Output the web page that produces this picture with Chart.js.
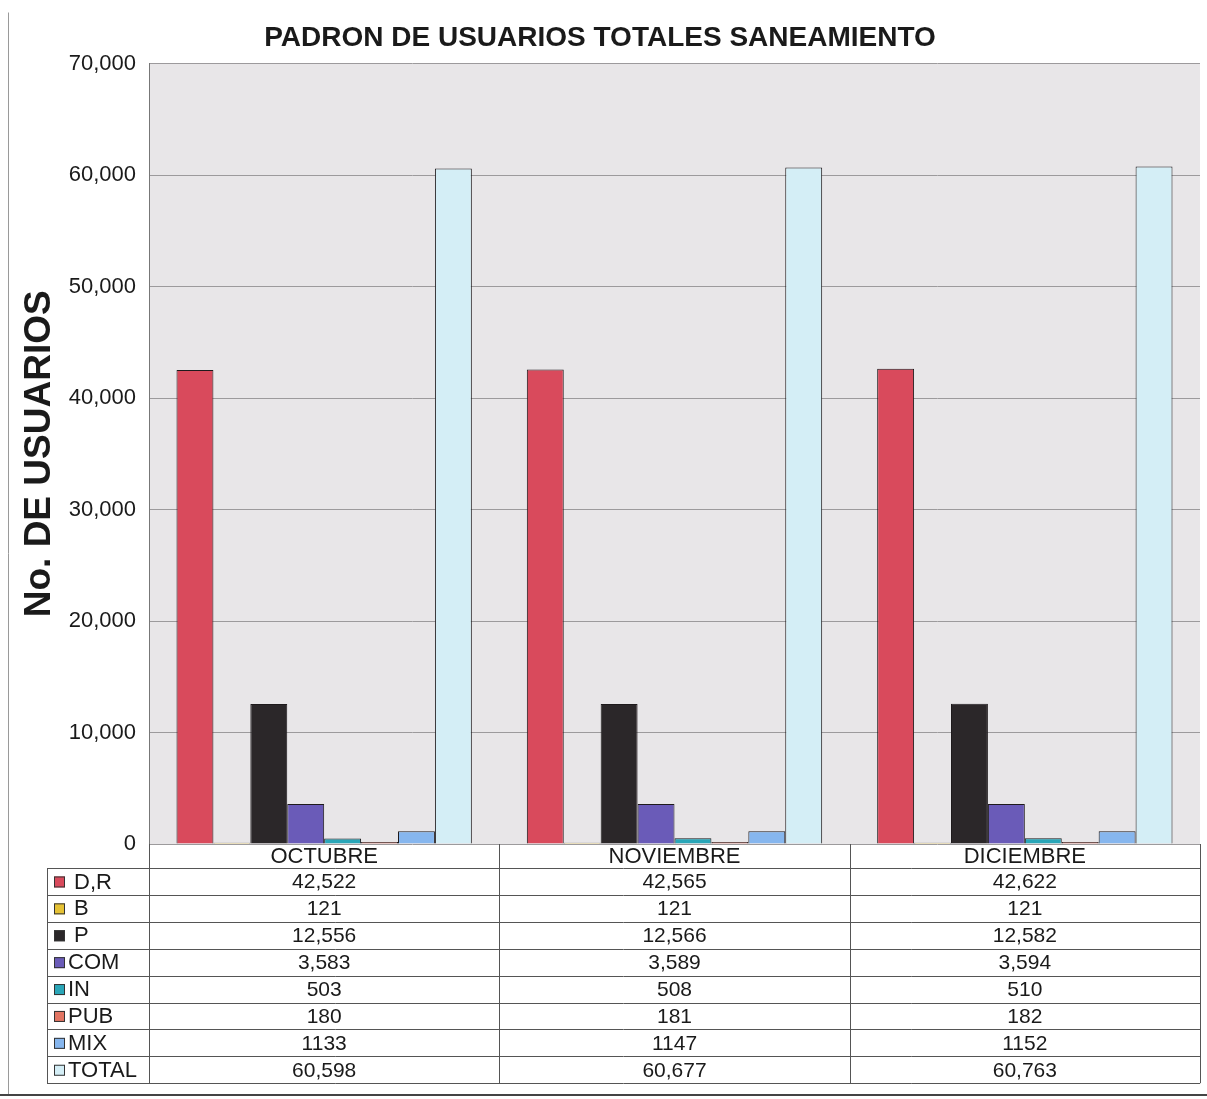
<!DOCTYPE html>
<html>
<head>
<meta charset="utf-8">
<title>Padron de usuarios totales saneamiento</title>
<script src="https://cdn.jsdelivr.net/npm/chart.js@4"></script>
<style>
  html, body { margin: 0; padding: 0; background: #fff; }
  #wrap { width: 1207px; height: 1099px; position: relative; }
</style>
</head>
<body>
<div id="wrap"><canvas id="chart" width="1207" height="1099"></canvas></div>
<script>
// months on the x axis
const months = ['OCTUBRE', 'NOVIEMBRE', 'DICIEMBRE'];

// one array per user type, same order as months
const dr    = [42522, 42565, 42622];
const b     = [121, 121, 121];
const p     = [12556, 12566, 12582];
const com   = [3583, 3589, 3594];
const ind   = [503, 508, 510];
const pub   = [180, 181, 182];
const mix   = [1133, 1147, 1152];
const total = [60598, 60677, 60763];

const seriesLabels = [' D,R', ' B', ' P', 'COM', 'IN', 'PUB', 'MIX', 'TOTAL'];
const seriesValues = [dr, b, p, com, ind, pub, mix, total];
const seriesColors = ['#d94a5c', '#e6c234', '#2b2729', '#6a5bb8', '#2aa6b8', '#e27462', '#86b6ee', '#d4eef6'];
// MIX is printed without thousands separator in the table
const useComma = [true, true, true, true, true, true, false, true];

const yTicks = [0, 10000, 20000, 30000, 40000, 50000, 60000, 70000];

const FONT = '"Liberation Sans", Arial, sans-serif';

const datasets = seriesLabels.map((lbl, i) => ({
  label: lbl.trim(),
  data: seriesValues[i],
  backgroundColor: seriesColors[i],
  borderColor: '#1e1a1c',
  borderWidth: 1,
  categoryPercentage: 0.843,
  barPercentage: 1.0
}));

// gray plot background
const plotBg = {
  id: 'plotBg',
  beforeDraw(chart) {
    const { ctx, chartArea: a } = chart;
    ctx.save();
    ctx.fillStyle = '#e8e6e8';
    ctx.fillRect(a.left, a.top, a.right - a.left, a.bottom - a.top);
    ctx.restore();
  }
};

// data table under the plot, columns follow the x scale
const dataTable = {
  id: 'dataTable',
  afterDraw(chart) {
    const { ctx, chartArea: a } = chart;
    const x = chart.scales.x;
    const rowH = 26.9;
    const headTop = a.bottom;
    const bodyTop = a.bottom + 24;
    const labelLeft = 47;
    const bottom = bodyTop + rowH * seriesLabels.length;
    const step = x.getPixelForValue(1) - x.getPixelForValue(0);

    ctx.save();
    ctx.strokeStyle = '#555';
    ctx.lineWidth = 1;

    // horizontal lines
    for (let r = 0; r <= seriesLabels.length; r++) {
      const y = Math.round(bodyTop + r * rowH) + 0.5;
      ctx.beginPath();
      ctx.moveTo(labelLeft, y);
      ctx.lineTo(a.right, y);
      ctx.stroke();
    }
    // vertical lines
    const vx = [labelLeft];
    for (let c = 0; c <= months.length; c++) {
      vx.push(x.getPixelForValue(c) - step / 2);
    }
    vx.forEach((px, k) => {
      const xx = Math.round(px) + 0.5;
      ctx.beginPath();
      ctx.moveTo(xx, k === 0 ? bodyTop : headTop);
      ctx.lineTo(xx, bottom);
      ctx.stroke();
    });

    // header
    ctx.fillStyle = '#1a1a1a';
    ctx.font = '22px ' + FONT;
    ctx.textAlign = 'center';
    ctx.textBaseline = 'middle';
    months.forEach((m, c) => {
      ctx.fillText(m, x.getPixelForValue(c), headTop + 13);
    });

    // rows
    seriesLabels.forEach((lbl, r) => {
      const cy = bodyTop + r * rowH + rowH / 2 + 1;
      // swatch
      ctx.fillStyle = seriesColors[r];
      ctx.fillRect(54, cy - 6, 11, 11);
      ctx.strokeStyle = '#333';
      ctx.strokeRect(54.5, cy - 5.5, 10, 10);
      ctx.fillStyle = '#1a1a1a';
      ctx.textAlign = 'left';
      ctx.font = '22px ' + FONT;
      ctx.fillText(lbl, 68, cy);
      ctx.textAlign = 'center';
      ctx.font = '21px ' + FONT;
      seriesValues[r].forEach((v, c) => {
        const txt = useComma[r] ? v.toLocaleString('en-US') : String(v);
        ctx.fillText(txt, x.getPixelForValue(c), cy);
      });
    });

    // faint outer frame of the page
    ctx.strokeStyle = '#9a9a9a';
    ctx.lineWidth = 1;
    ctx.beginPath();
    ctx.moveTo(8.5, 12.5);
    ctx.lineTo(8.5, 1094.5);
    ctx.stroke();
    ctx.strokeStyle = '#444';
    ctx.lineWidth = 2;
    ctx.beginPath();
    ctx.moveTo(0, 1095);
    ctx.lineTo(1207, 1095);
    ctx.stroke();
    ctx.restore();
  }
};

new Chart(document.getElementById('chart').getContext('2d'), {
  type: 'bar',
  data: { labels: months, datasets: datasets },
  options: {
    responsive: false,
    animation: false,
    layout: { padding: { left: 0, right: 7, top: 0, bottom: 255 } },
    plugins: {
      legend: { display: false },
      tooltip: { enabled: false },
      title: {
        display: true,
        text: 'PADRON DE USUARIOS TOTALES SANEAMIENTO',
        color: '#1a1a1a',
        font: { family: FONT, size: 28, weight: 'bold' },
        padding: { top: 21, bottom: 9 }
      }
    },
    scales: {
      x: {
        display: false,
        offset: true
      },
      y: {
        min: 0,
        max: 70000,
        afterBuildTicks: (scale) => {
          scale.ticks = yTicks.map(v => ({ value: v }));
        },
        afterFit: (scale) => { scale.width = 149; },
        border: { display: true, color: '#777' },
        grid: { color: '#9c9a9c', drawTicks: false, lineWidth: 1 },
        ticks: {
          color: '#1a1a1a',
          padding: 13,
          font: { family: FONT, size: 22 },
          callback: (v) => v.toLocaleString('en-US')
        },
        title: {
          display: true,
          text: 'No. DE USUARIOS',
          color: '#1a1a1a',
          font: { family: FONT, size: 37, weight: 'bold' },
          padding: { top: 18, bottom: 0 }
        }
      }
    }
  },
  plugins: [plotBg, dataTable]
});
</script>
</body>
</html>
